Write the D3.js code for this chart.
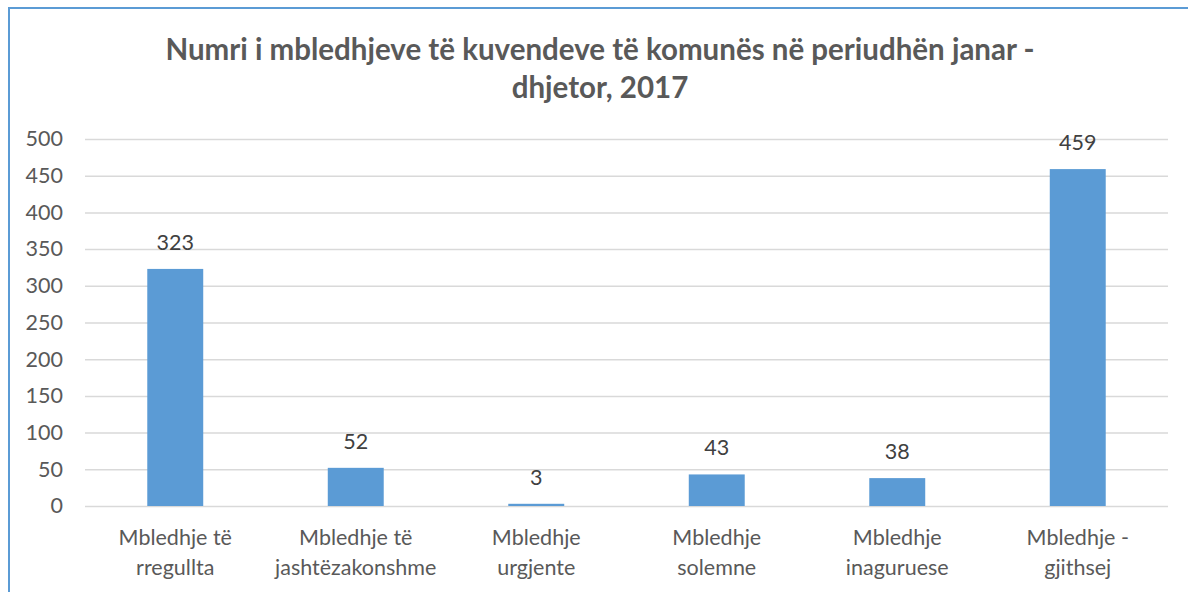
<!DOCTYPE html>
<html>
<head>
<meta charset="utf-8">
<script src="https://cdn.jsdelivr.net/npm/d3@7"></script>
<style>
  body { margin: 0; background: #fff; }
  svg { display: block; font-family: Lato, "Open Sans", sans-serif; }
</style>
</head>
<body>
<svg id="chart" width="1188" height="592"></svg>
<script>
// data
var categories = [
  ["Mbledhje të", "rregullta"],
  ["Mbledhje të", "jashtëzakonshme"],
  ["Mbledhje", "urgjente"],
  ["Mbledhje", "solemne"],
  ["Mbledhje", "inaguruese"],
  ["Mbledhje -", "gjithsej"]
];
var values = [323, 52, 3, 43, 38, 459];
var yTicks = [0, 50, 100, 150, 200, 250, 300, 350, 400, 450, 500];
var titleLines = ["Numri i mbledhjeve të kuvendeve të komunës në periudhën janar -", "dhjetor, 2017"];

var svg = d3.select('#chart');
var plotL = 85, plotR = 1168, plotT = 139, plotB = 506;

// frame of the chart area
svg.append('path')
  .attr('d', 'M9,592 V8 H1188')
  .attr('fill', 'none')
  .attr('stroke', '#5b9bd5')
  .attr('stroke-width', 2);

svg.selectAll('text.title')
  .data(titleLines)
  .enter().append('text')
  .attr('class', 'title')
  .attr('x', 600)
  .attr('y', (d, i) => 60 + i * 38)
  .attr('text-anchor', 'middle')
  .attr('font-size', 29.5)
  .attr('font-weight', 'bold')
  .attr('fill', '#595959')
  .text(d => d);

var x = d3.scaleBand()
  .domain(d3.range(categories.length))
  .range([plotL, plotR])
  .paddingInner(0.69)
  .paddingOuter(0.345);

var y = d3.scaleLinear().domain([0, 500]).range([plotB, plotT]);

// grid
var yAxis = svg.append('g')
  .attr('transform', 'translate(' + plotL + ',0)')
  .call(d3.axisLeft(y).tickValues(yTicks).tickSize(-(plotR - plotL)).tickPadding(22));
yAxis.select('.domain').remove();
yAxis.selectAll('line').attr('stroke', '#d9d9d9').attr('stroke-width', 1.5);
yAxis.selectAll('text')
  .attr('font-size', 21.5)
  .attr('fill', '#595959')
  .attr('font-family', 'Lato, "Open Sans", sans-serif');

svg.selectAll('rect.bar')
  .data(values)
  .enter().append('rect')
  .attr('class', 'bar')
  .attr('x', (d, i) => x(i))
  .attr('y', d => y(d))
  .attr('width', x.bandwidth())
  .attr('height', d => plotB - y(d))
  .attr('fill', '#5b9bd5');

svg.selectAll('text.val')
  .data(values)
  .enter().append('text')
  .attr('class', 'val')
  .attr('x', (d, i) => x(i) + x.bandwidth() / 2)
  .attr('y', d => y(d) - 19)
  .attr('text-anchor', 'middle')
  .attr('font-size', 21.5)
  .attr('fill', '#404040')
  .text(d => d);

var cat = svg.selectAll('text.cat')
  .data(categories)
  .enter().append('text')
  .attr('class', 'cat')
  .attr('text-anchor', 'middle')
  .attr('font-size', 21.5)
  .attr('fill', '#595959');
cat.each(function(d, i) {
  d3.select(this).selectAll('tspan')
    .data(d)
    .enter().append('tspan')
    .attr('x', x(i) + x.bandwidth() / 2)
    .attr('y', (s, j) => 545 + j * 30)
    .text(s => s);
});
</script>
</body>
</html>
